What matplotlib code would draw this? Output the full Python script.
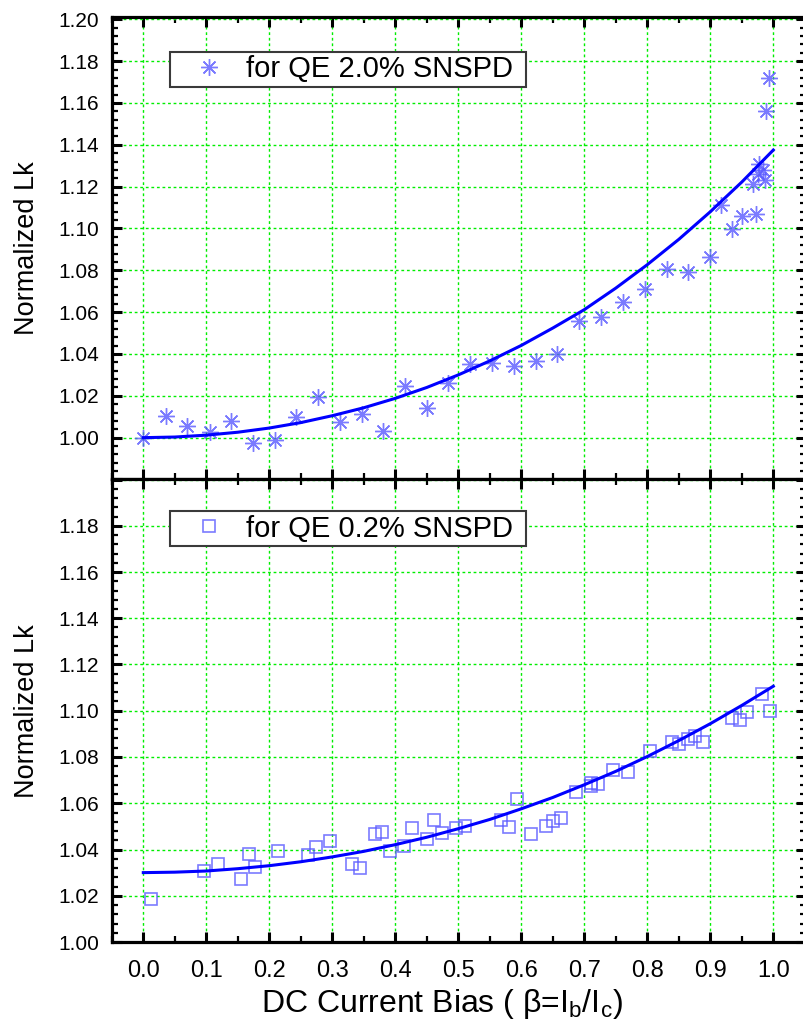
import numpy as np
import matplotlib
matplotlib.use('Agg')
import matplotlib.pyplot as plt
from matplotlib import font_manager
from matplotlib.ticker import MultipleLocator, FormatStrFormatter

# Normalized kinetic inductance vs bias, two detectors
x_qe20 = [0.000, 0.036, 0.070, 0.106, 0.140, 0.174, 0.209, 0.242, 0.277, 0.312,
          0.347, 0.381, 0.415, 0.450, 0.484, 0.519, 0.553, 0.588, 0.623, 0.657,
          0.692, 0.726, 0.761, 0.796, 0.831, 0.865, 0.900, 0.917, 0.934, 0.951,
          0.972, 0.968, 0.978, 0.976, 0.983, 0.987, 0.989, 0.993]
y_qe20 = [1.0000, 1.0104, 1.0054, 1.0027, 1.0078, 0.9974, 0.9987, 1.0099, 1.0195, 1.0075,
          1.0115, 1.0030, 1.0246, 1.0144, 1.0259, 1.0352, 1.0358, 1.0344, 1.0368, 1.0400,
          1.0558, 1.0578, 1.0647, 1.0710, 1.0806, 1.0790, 1.0863, 1.1110, 1.0998, 1.1060,
          1.1070, 1.1213, 1.1310, 1.1260, 1.1280, 1.1234, 1.1560, 1.1720]

x_qe02 = [0.013, 0.096, 0.119, 0.155, 0.167, 0.178, 0.214, 0.261, 0.274, 0.297,
          0.332, 0.344, 0.368, 0.379, 0.392, 0.414, 0.427, 0.450, 0.462, 0.474,
          0.497, 0.510, 0.568, 0.580, 0.593, 0.615, 0.639, 0.651, 0.663, 0.687,
          0.710, 0.710, 0.722, 0.745, 0.769, 0.804, 0.840, 0.851, 0.864, 0.876,
          0.888, 0.934, 0.947, 0.959, 0.982, 0.994]
y_qe02 = [1.0187, 1.0307, 1.0336, 1.0274, 1.0382, 1.0324, 1.0393, 1.0375, 1.0410, 1.0436,
          1.0336, 1.0321, 1.0468, 1.0475, 1.0393, 1.0413, 1.0494, 1.0444, 1.0526, 1.0471,
          1.0492, 1.0501, 1.0526, 1.0497, 1.0619, 1.0468, 1.0501, 1.0523, 1.0536, 1.0648,
          1.0673, 1.0687, 1.0684, 1.0742, 1.0737, 1.0824, 1.0867, 1.0857, 1.0879, 1.0889,
          1.0867, 1.0968, 1.0958, 1.0994, 1.1073, 1.1001]

# fitted curves, read every 0.05 in bias
x_fit = [0.00, 0.05, 0.10, 0.15, 0.20, 0.25, 0.30, 0.35, 0.40, 0.45, 0.50,
         0.55, 0.60, 0.65, 0.70, 0.75, 0.80, 0.85, 0.90, 0.95, 1.00]
fit_qe20 = [1.0000, 1.0003, 1.0012, 1.0026, 1.0046, 1.0072, 1.0105, 1.0143, 1.0188, 1.0240, 1.0300,
            1.0367, 1.0441, 1.0524, 1.0612, 1.0715, 1.0827, 1.0948, 1.1080, 1.1222, 1.1375]
fit_qe02 = [1.0300, 1.0302, 1.0307, 1.0317, 1.0330, 1.0347, 1.0368, 1.0392, 1.0421, 1.0453, 1.0490,
            1.0530, 1.0576, 1.0625, 1.0680, 1.0738, 1.0802, 1.0871, 1.0944, 1.1023, 1.1106]

label_qe20 = 'for QE 2.0% SNSPD'
label_qe02 = 'for QE 0.2% SNSPD'
xticks = [0.0, 0.1, 0.2, 0.3, 0.4, 0.5, 0.6, 0.7, 0.8, 0.9, 1.0]
yticks_top = [0.98, 1.00, 1.02, 1.04, 1.06, 1.08, 1.10, 1.12, 1.14, 1.16, 1.18, 1.20]
yticks_bot = [1.00, 1.02, 1.04, 1.06, 1.08, 1.10, 1.12, 1.14, 1.16, 1.18, 1.20]

# narrow face for axis titles when it is installed
names = {f.name for f in font_manager.fontManager.ttflist}
narrow = 'Liberation Sans Narrow' in names
plt.rcParams['font.family'] = ['Liberation Sans', 'DejaVu Sans']
plt.rcParams['mathtext.fontset'] = 'custom'
plt.rcParams['mathtext.rm'] = 'Liberation Sans'
plt.rcParams['mathtext.it'] = 'Liberation Sans'
if narrow:
    lab_font = dict(family=['Liberation Sans Narrow', 'DejaVu Sans'])
    xlab_size, ylab_size, xtick_size = 28, 23, 20
else:
    lab_font = dict(family=['Liberation Sans', 'DejaVu Sans'])
    xlab_size, ylab_size, xtick_size = 23, 19.5, 17

W, H = 804, 1021
fig = plt.figure(figsize=(W / 100, H / 100), dpi=100)
left, right = 111.8, 806.5
ax1 = fig.add_axes([left / W, 1 - 479.5 / H, (right - left) / W, 462.5 / H])
ax2 = fig.add_axes([left / W, 1 - 942.0 / H, (right - left) / W, 462.5 / H])
xmax = -0.05 + (right - left) / 630.0

mk_col = '#5a5aff'
line_col = '#0000ff'
grid_kw = dict(color='#00ee00', linestyle=(0, (2, 2)), linewidth=1.0)

ax1.plot(x_qe20, y_qe20, linestyle='none', marker=(8, 2, 0), markersize=12,
         markeredgewidth=1.0, color=mk_col, alpha=0.8, label=label_qe20, zorder=3)
ax1.plot(x_fit, fit_qe20, color=line_col, linewidth=2.2, zorder=4)

ax2.plot(x_qe02, y_qe02, linestyle='none', marker='s', markersize=9,
         markeredgewidth=1.2, markerfacecolor='none', markeredgecolor=mk_col,
         alpha=0.8, label=label_qe02, zorder=3)
ax2.plot(x_fit, fit_qe02, color=line_col, linewidth=2.2, zorder=4)

ax1.set_ylim(0.98, 1.2011)
ax2.set_ylim(1.00, 1.20)
ax1.set_yticks(yticks_top)
ax2.set_yticks(yticks_bot)
ax1.set_yticklabels(['' if v < 1.0 else '%.2f' % v for v in yticks_top])
ax2.set_yticklabels(['' if v > 1.19 else '%.2f' % v for v in yticks_bot])

for ax in (ax1, ax2):
    ax.set_xlim(-0.05, xmax)
    ax.set_xticks(xticks)
    ax.xaxis.set_minor_locator(MultipleLocator(0.05))
    ax.yaxis.set_minor_locator(MultipleLocator(0.004))
    ax.grid(True, which='major', **grid_kw)
    ax.set_axisbelow(True)
    for sp in ax.spines.values():
        sp.set_linewidth(2.3)
    ax.tick_params(which='both', direction='in', top=True, right=True)
    ax.tick_params(which='major', length=7.5, width=2.2)
    ax.tick_params(which='minor', length=4, width=1.6)
    ax.tick_params(axis='y', which='major', labelsize=15, pad=9)
    ax.set_ylabel('Normalized Lk', fontsize=ylab_size, labelpad=13, **lab_font)

ax1.tick_params(axis='x', labelbottom=False)
ax2.xaxis.set_major_formatter(FormatStrFormatter('%.1f'))
ax2.tick_params(axis='x', which='major', labelsize=xtick_size, pad=13)
for t in ax2.get_xticklabels():
    t.set_fontfamily(lab_font['family'])
ax2.set_xlabel('DC Current Bias ( \u03b2=I$_{\\rm b}$/I$_{\\rm c}$)', fontsize=xlab_size,
               **lab_font)
ax2.xaxis.set_label_coords(0.475, -0.098)

for ax, top_px in ((ax1, 52.0 - 17.0), (ax2, 511.0 - 479.5)):
    leg = ax.legend(loc='upper left',
                    bbox_to_anchor=(58.0 / 694.7, 1 - top_px / 462.5, 356.0 / 694.7, 0),
                    mode='expand', frameon=True, fancybox=False, edgecolor='#3a3a3a',
                    framealpha=1, borderpad=0.12, handlelength=2.45, handletextpad=0.05,
                    borderaxespad=0, fontsize=21)
    leg.get_frame().set_linewidth(1.5)

fig.savefig('out.png', dpi=100)
